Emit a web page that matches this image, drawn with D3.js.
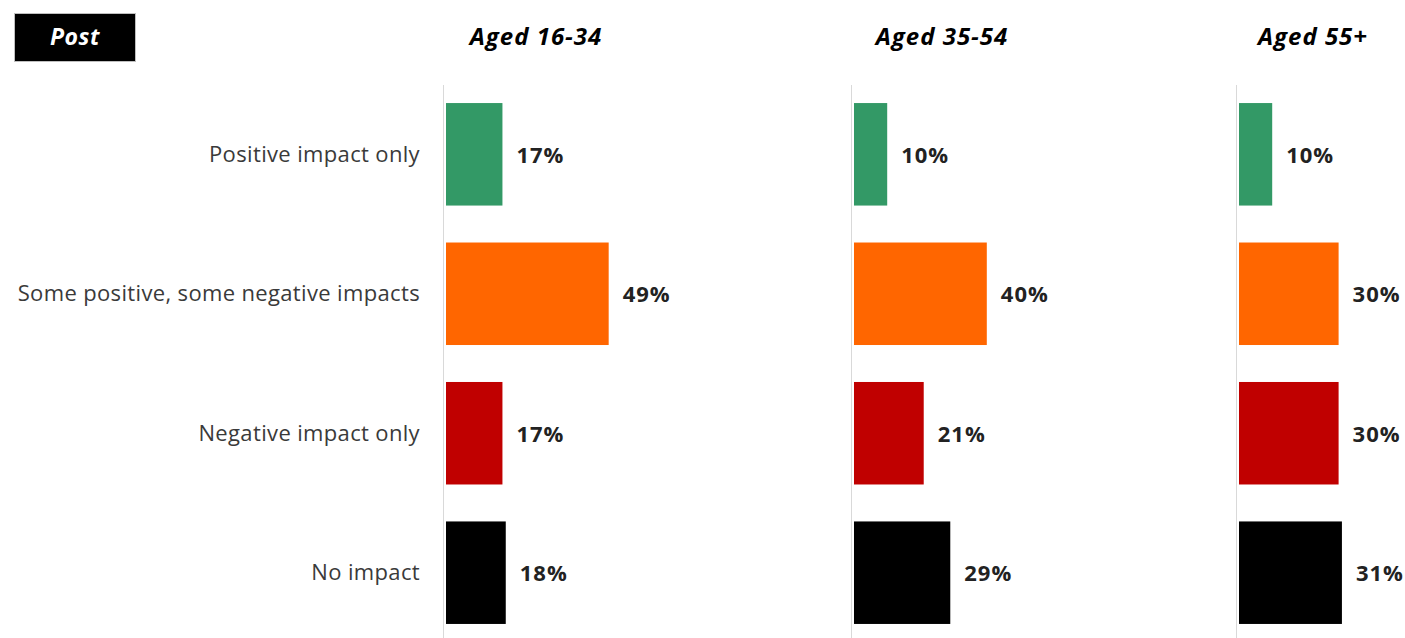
<!DOCTYPE html>
<html>
<head>
<meta charset="utf-8">
<script src="https://cdn.jsdelivr.net/npm/d3@7"></script>
<style>
  body { margin: 0; background: #fff; }
  svg { display: block; font-family: "Open Sans", Lato, sans-serif; }
</style>
</head>
<body>
<div id="chart"></div>
<script>
const categories = ["Positive impact only", "Some positive, some negative impacts", "Negative impact only", "No impact"];
const groups = ["Aged 16-34", "Aged 35-54", "Aged 55+"];
const aged16to34 = [17, 49, 17, 18];
const aged35to54 = [10, 40, 21, 29];
const aged55plus = [10, 30, 30, 31];
const barColors = ["#339966", "#FF6600", "#C00000", "#000000"];

function init() {
    const w = 1405;
    const h = 638;
    const seriesValues = [aged16to34, aged35to54, aged55plus];

    // panel origins (x of the thin axis line) and header centres
    const panelX = [443, 851, 1236];
    const headerX = [536, 942, 1313];

    const svg = d3.select("#chart")
        .append("svg")
        .attr("width", w)
        .attr("height", h);

    // "Post" tag in the corner
    svg.append("rect")
        .attr("x", 14.5).attr("y", 13.5)
        .attr("width", 121).attr("height", 48)
        .attr("fill", "#000")
        .attr("stroke", "#bfbfbf")
        .attr("stroke-width", 1);
    svg.append("text")
        .attr("x", 75).attr("y", 45)
        .attr("text-anchor", "middle")
        .attr("fill", "#fff")
        .attr("font-size", "23px")
        .attr("font-weight", "bold")
        .attr("font-style", "italic")
        .attr("letter-spacing", "0.5px")
        .text("Post");

    const yScale = d3.scaleBand()
        .domain(categories)
        .range([84.5, 642.5])
        .paddingInner(0.265)
        .paddingOuter(0.133);

    const xScale = d3.scaleLinear()
        .domain([0, 100])
        .range([0, 332]);

    // category labels on the left
    svg.append("g")
        .selectAll("text")
        .data(categories)
        .enter()
        .append("text")
        .attr("x", 420)
        .attr("y", d => yScale(d) + yScale.bandwidth() / 2)
        .attr("dy", "0.35em")
        .attr("text-anchor", "end")
        .attr("fill", "#3a3a3a")
        .attr("font-size", "22px")
        .attr("letter-spacing", "0.35px")
        .text(d => d);

    groups.forEach((g, i) => {
        const x0 = panelX[i];
        const panel = svg.append("g");

        // header
        panel.append("text")
            .attr("x", headerX[i])
            .attr("y", 45)
            .attr("text-anchor", "middle")
            .attr("font-size", "24px")
            .attr("font-weight", "bold")
            .attr("font-style", "italic")
            .attr("letter-spacing", "1px")
            .attr("fill", "#000")
            .text(g);

        // thin axis line
        panel.append("line")
            .attr("x1", x0 + 0.5).attr("x2", x0 + 0.5)
            .attr("y1", 85).attr("y2", h)
            .attr("stroke", "#d9d9d9")
            .attr("stroke-width", 1);

        const rows = categories.map((c, j) => ({ cat: c, value: seriesValues[i][j], color: barColors[j] }));

        panel.selectAll("rect")
            .data(rows)
            .enter()
            .append("rect")
            .attr("x", x0 + 3)
            .attr("y", d => yScale(d.cat))
            .attr("width", d => xScale(d.value))
            .attr("height", yScale.bandwidth())
            .attr("fill", d => d.color);

        panel.selectAll("text.val")
            .data(rows)
            .enter()
            .append("text")
            .attr("class", "val")
            .attr("x", d => x0 + 3 + xScale(d.value) + 14)
            .attr("y", d => yScale(d.cat) + yScale.bandwidth() / 2)
            .attr("dy", "0.38em")
            .attr("font-size", "22px")
            .attr("font-weight", "bold")
            .attr("letter-spacing", "1px")
            .attr("fill", "#222")
            .text(d => d.value + "%");
    });
}

window.onload = init;
</script>
</body>
</html>
